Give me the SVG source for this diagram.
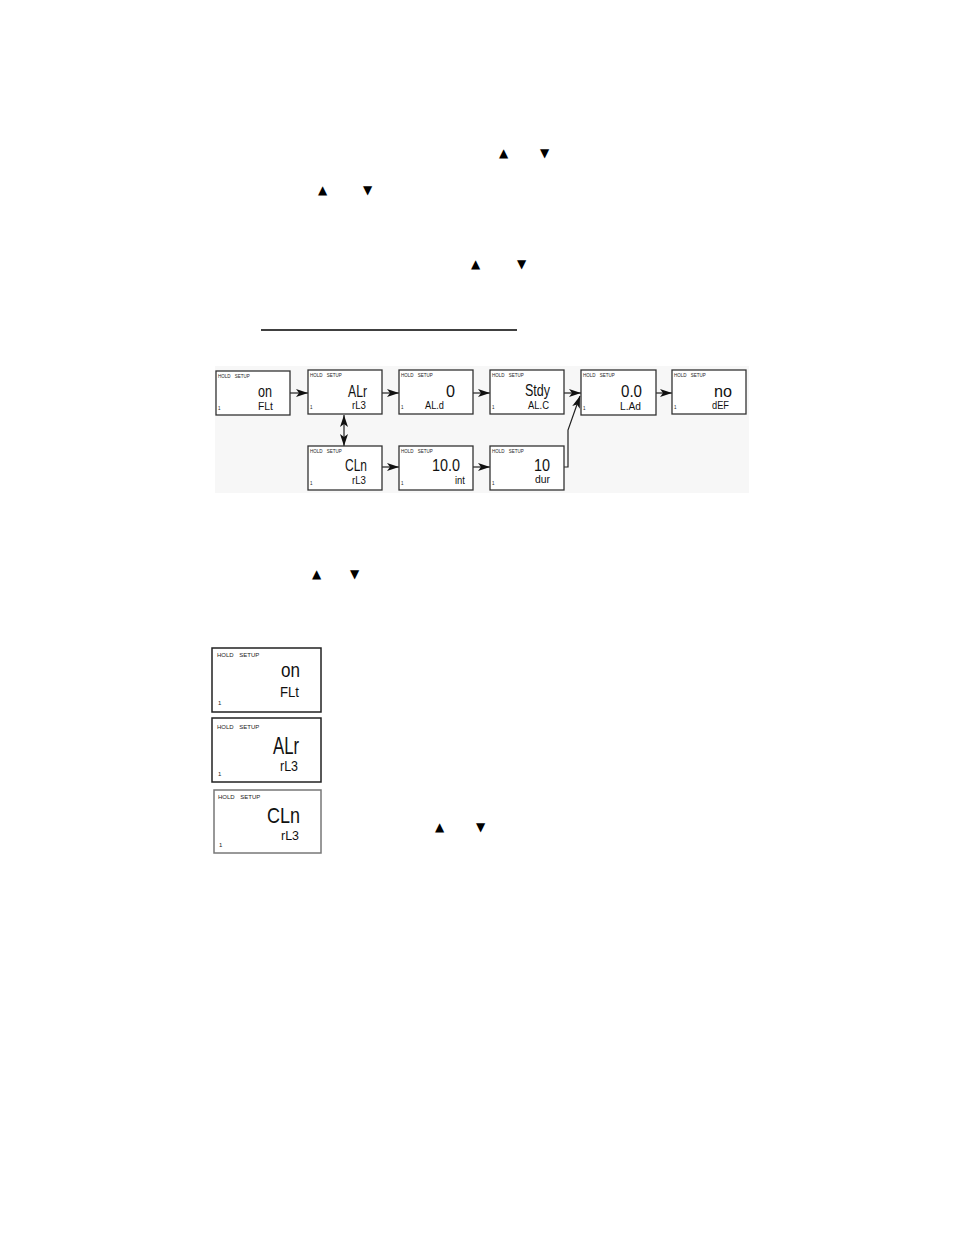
<svg xmlns="http://www.w3.org/2000/svg" width="954" height="1235" viewBox="0 0 954 1235">
<style>
.tri{font-family:"DejaVu Sans",sans-serif;font-size:12px;fill:#000}
.sbox{fill:#fff;stroke:#333;stroke-width:1.3}
.lbox{fill:#fff;stroke:#222;stroke-width:1.5}
.tiny{font-family:"Liberation Sans",Arial,sans-serif;font-size:4.5px;fill:#222;word-spacing:3px}
.small{font-family:"Liberation Sans",Arial,sans-serif;font-size:6px;fill:#222;word-spacing:4px}
.m{font-family:"Liberation Sans",Arial,sans-serif;font-size:16px;fill:#111;text-anchor:end}
.s{font-family:"Liberation Sans",Arial,sans-serif;font-size:11px;fill:#111;text-anchor:end}
.M{font-family:"Liberation Sans",Arial,sans-serif;font-size:24px;fill:#111;text-anchor:end}
.S{font-family:"Liberation Sans",Arial,sans-serif;font-size:14px;fill:#111;text-anchor:end}
.conn{fill:none;stroke:#222;stroke-width:1.2}
</style>
<defs>
<marker id="ah" markerUnits="userSpaceOnUse" markerWidth="13" markerHeight="9" refX="12" refY="4" orient="auto-start-reverse">
<path d="M0,0 L12,4 L0,8 L3,4 Z" fill="#111"/>
</marker>
</defs>
<rect width="954" height="1235" fill="#fff"/>

<g id="text-symbols">
<text class="tri" x="499" y="157">▲</text>
<text class="tri" x="540" y="157">▼</text>
<text class="tri" x="318" y="194">▲</text>
<text class="tri" x="363" y="194">▼</text>
<text class="tri" x="471" y="268">▲</text>
<text class="tri" x="517" y="268">▼</text>
<line x1="261" y1="330" x2="517" y2="330" stroke="#000" stroke-width="1.3"/>
<text class="tri" x="312" y="578">▲</text>
<text class="tri" x="350" y="578">▼</text>
<text class="tri" x="435" y="831">▲</text>
<text class="tri" x="476" y="831">▼</text>
</g>

<rect x="215" y="366" width="534" height="127" fill="#f7f7f7"/>

<g id="connectors">
<line class="conn" x1="290" y1="393" x2="308" y2="393" marker-end="url(#ah)"/>
<line class="conn" x1="382" y1="393" x2="399" y2="393" marker-end="url(#ah)"/>
<line class="conn" x1="473" y1="393" x2="490" y2="393" marker-end="url(#ah)"/>
<line class="conn" x1="564" y1="393" x2="581" y2="393" marker-end="url(#ah)"/>
<line class="conn" x1="656" y1="393" x2="672" y2="393" marker-end="url(#ah)"/>
<line class="conn" x1="382" y1="467" x2="399" y2="467" marker-end="url(#ah)"/>
<line class="conn" x1="473" y1="467" x2="490" y2="467" marker-end="url(#ah)"/>
<line class="conn" x1="344" y1="415" x2="344" y2="446" marker-start="url(#ah)" marker-end="url(#ah)"/>
<path class="conn" d="M564,467 H568 V430 L580,396" marker-end="url(#ah)"/>
</g>

<g id="n-on-flt">
<rect class="sbox" x="216" y="371" width="74" height="44"/>
<text class="tiny" x="218" y="378">HOLD SETUP</text>
<text class="tiny" x="218" y="410">1</text>
<text class="m" x="272" y="397" textLength="14" lengthAdjust="spacingAndGlyphs">on</text>
<text class="s" x="273" y="410" textLength="15" lengthAdjust="spacingAndGlyphs">FLt</text>
</g>
<g id="n-alr">
<rect class="sbox" x="308" y="370" width="74" height="44"/>
<text class="tiny" x="310" y="377">HOLD SETUP</text>
<text class="tiny" x="310" y="409">1</text>
<text class="m" x="367" y="397" textLength="19" lengthAdjust="spacingAndGlyphs">ALr</text>
<text class="s" x="366" y="409" textLength="14" lengthAdjust="spacingAndGlyphs">rL3</text>
</g>
<g id="n-0-ald">
<rect class="sbox" x="399" y="370" width="74" height="44"/>
<text class="tiny" x="401" y="377">HOLD SETUP</text>
<text class="tiny" x="401" y="409">1</text>
<text class="m" x="455" y="397" textLength="9" lengthAdjust="spacingAndGlyphs">0</text>
<text class="s" x="444" y="409" textLength="19" lengthAdjust="spacingAndGlyphs">AL.d</text>
</g>
<g id="n-stdy">
<rect class="sbox" x="490" y="370" width="74" height="44"/>
<text class="tiny" x="492" y="377">HOLD SETUP</text>
<text class="tiny" x="492" y="409">1</text>
<text class="m" x="550" y="396" textLength="25" lengthAdjust="spacingAndGlyphs">Stdy</text>
<text class="s" x="549" y="409" textLength="21" lengthAdjust="spacingAndGlyphs">AL.C</text>
</g>
<g id="n-lad">
<rect class="sbox" x="581" y="370" width="75" height="45"/>
<text class="tiny" x="583" y="377">HOLD SETUP</text>
<text class="tiny" x="583" y="410">1</text>
<text class="m" x="642" y="397" textLength="21" lengthAdjust="spacingAndGlyphs">0.0</text>
<text class="s" x="641" y="410" textLength="21" lengthAdjust="spacingAndGlyphs">L.Ad</text>
</g>
<g id="n-def">
<rect class="sbox" x="672" y="370" width="74" height="44"/>
<text class="tiny" x="674" y="377">HOLD SETUP</text>
<text class="tiny" x="674" y="409">1</text>
<text class="m" x="732" y="397" textLength="18" lengthAdjust="spacingAndGlyphs">no</text>
<text class="s" x="729" y="409" textLength="17" lengthAdjust="spacingAndGlyphs">dEF</text>
</g>
<g id="n-cln">
<rect class="sbox" x="308" y="446" width="74" height="44"/>
<text class="tiny" x="310" y="453">HOLD SETUP</text>
<text class="tiny" x="310" y="485">1</text>
<text class="m" x="367" y="471" textLength="22" lengthAdjust="spacingAndGlyphs">CLn</text>
<text class="s" x="366" y="484" textLength="14" lengthAdjust="spacingAndGlyphs">rL3</text>
</g>
<g id="n-int">
<rect class="sbox" x="399" y="446" width="74" height="44"/>
<text class="tiny" x="401" y="453">HOLD SETUP</text>
<text class="tiny" x="401" y="485">1</text>
<text class="m" x="460" y="471" textLength="28" lengthAdjust="spacingAndGlyphs">10.0</text>
<text class="s" x="465" y="484" textLength="10" lengthAdjust="spacingAndGlyphs">int</text>
</g>
<g id="n-dur">
<rect class="sbox" x="490" y="446" width="74" height="44"/>
<text class="tiny" x="492" y="453">HOLD SETUP</text>
<text class="tiny" x="492" y="485">1</text>
<text class="m" x="550" y="471" textLength="16" lengthAdjust="spacingAndGlyphs">10</text>
<text class="s" x="550" y="483" textLength="15" lengthAdjust="spacingAndGlyphs">dur</text>
</g>

<g id="d-flt">
<rect class="lbox" x="212" y="648" width="109" height="64"/>
<text class="small" x="217" y="657">HOLD SETUP</text>
<text class="small" x="218" y="705">1</text>
<text class="M" x="300" y="677" style="font-size:21px" textLength="19" lengthAdjust="spacingAndGlyphs">on</text>
<text class="S" x="299" y="697" textLength="19" lengthAdjust="spacingAndGlyphs">FLt</text>
</g>
<g id="d-alr">
<rect class="lbox" x="212" y="718" width="109" height="64"/>
<text class="small" x="217" y="729">HOLD SETUP</text>
<text class="small" x="218" y="776">1</text>
<text class="M" x="299" y="754" style="font-size:23px" textLength="26" lengthAdjust="spacingAndGlyphs">ALr</text>
<text class="S" x="298" y="771" textLength="18" lengthAdjust="spacingAndGlyphs">rL3</text>
</g>
<g id="d-cln">
<rect class="lbox" x="214" y="790" width="107" height="63" style="stroke:#777"/>
<text class="small" x="218" y="799">HOLD SETUP</text>
<text class="small" x="219" y="847">1</text>
<text class="M" x="300" y="823" style="font-size:22px" textLength="33" lengthAdjust="spacingAndGlyphs">CLn</text>
<text class="S" x="299" y="840" style="font-size:13px" textLength="18" lengthAdjust="spacingAndGlyphs">rL3</text>
</g>
</svg>
